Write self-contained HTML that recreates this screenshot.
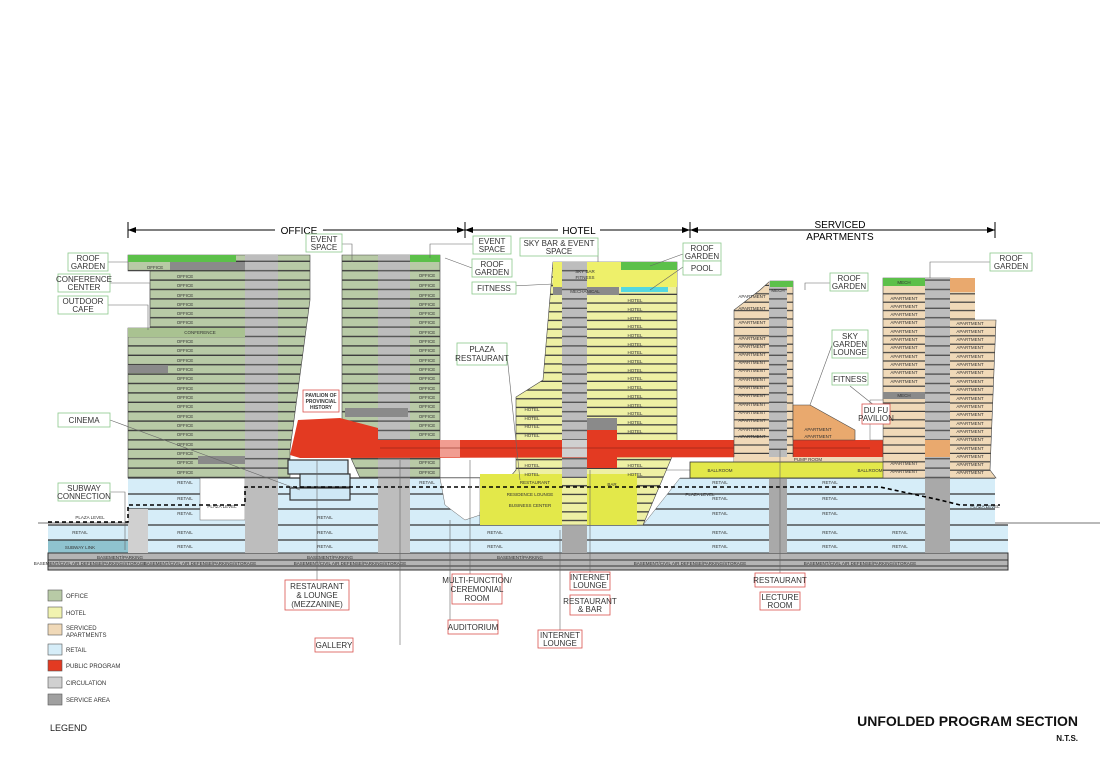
<!DOCTYPE html>
<html><head><meta charset="utf-8"><style>
html,body{margin:0;padding:0;background:#fff;}
svg{display:block;font-family:"Liberation Sans",sans-serif;}
.lb{font-size:8px;fill:#333;text-anchor:middle;}
.sm{font-size:4.5px;fill:#333;text-anchor:middle;}
</style></head><body>
<svg width="1100" height="777" viewBox="0 0 1100 777" xmlns="http://www.w3.org/2000/svg">
<defs>
<pattern id="po" width="10" height="9.4" patternUnits="userSpaceOnUse" y="262"><rect width="10" height="9.4" fill="#b8caa6"/><rect y="8" width="10" height="1.4" fill="#3d3d3d"/></pattern>
<pattern id="ph" width="10" height="8.7" patternUnits="userSpaceOnUse" y="295"><rect width="10" height="8.7" fill="#eef0a4"/><rect y="7.4" width="10" height="1.3" fill="#3d3d3d"/></pattern>
<pattern id="pa" width="10" height="8.4" patternUnits="userSpaceOnUse" y="286"><rect width="10" height="8.4" fill="#f0d9b8"/><rect y="7.2" width="10" height="1.2" fill="#3d3d3d"/></pattern>
<pattern id="pc" width="10" height="9.4" patternUnits="userSpaceOnUse" y="262"><rect width="10" height="9.4" fill="#bdbdbd"/><rect y="8" width="10" height="1.4" fill="#555"/></pattern>
</defs>

<line x1="128" y1="230" x2="995" y2="230" stroke="#000" stroke-width="1"/>
<g stroke="#000"><line x1="128" y1="222" x2="128" y2="238"/><line x1="465" y1="222" x2="465" y2="238"/><line x1="690" y1="222" x2="690" y2="238"/><line x1="995" y1="222" x2="995" y2="238"/></g>
<g fill="#000"><polygon points="128,230 136,227 136,233"/><polygon points="465,230 457,227 457,233"/><polygon points="465,230 473,227 473,233"/><polygon points="690,230 682,227 682,233"/><polygon points="690,230 698,227 698,233"/><polygon points="995,230 987,227 987,233"/></g>
<rect x="275" y="224" width="48" height="12" fill="#fff"/><text x="299" y="234" font-size="10" text-anchor="middle">OFFICE</text>
<rect x="558" y="224" width="42" height="12" fill="#fff"/><text x="579" y="234" font-size="10" text-anchor="middle">HOTEL</text>
<text x="840" y="228" font-size="10" text-anchor="middle">SERVICED</text>
<rect x="800" y="231" width="80" height="10" fill="#fff"/><text x="840" y="240" font-size="10" text-anchor="middle">APARTMENTS</text>

<line x1="38" y1="523" x2="1100" y2="523" stroke="#444" stroke-width="0.8"/>

<rect x="128" y="478" width="867" height="47" fill="#d6edf8"/>
<rect x="128" y="525" width="880" height="28" fill="#d6edf8"/>
<rect x="48" y="525" width="80" height="15" fill="#d6edf8"/>
<rect x="48" y="540" width="80" height="13" fill="#8fc3cf"/>
<g stroke="#333" stroke-width="1.3"><line x1="128" y1="478" x2="995" y2="478"/><line x1="128" y1="494" x2="995" y2="494"/><line x1="128" y1="509" x2="995" y2="509"/><line x1="48" y1="525" x2="1008" y2="525"/><line x1="48" y1="540" x2="1008" y2="540"/></g>
<rect x="48" y="553" width="960" height="17" fill="#b4b4b4" stroke="#333"/>
<line x1="48" y1="560" x2="1008" y2="560" stroke="#333"/><line x1="48" y1="566" x2="1008" y2="566" stroke="#333"/>
<text x="120" y="559" class="sm">BASEMENT/PARKING</text><text x="330" y="559" class="sm">BASEMENT/PARKING</text><text x="520" y="559" class="sm">BASEMENT/PARKING</text>
<text x="90" y="565" class="sm">BASEMENT/CIVIL AIR DEFENSE/PARKING/STORAGE</text><text x="200" y="565" class="sm">BASEMENT/CIVIL AIR DEFENSE/PARKING/STORAGE</text><text x="350" y="565" class="sm">BASEMENT/CIVIL AIR DEFENSE/PARKING/STORAGE</text><text x="690" y="565" class="sm">BASEMENT/CIVIL AIR DEFENSE/PARKING/STORAGE</text><text x="860" y="565" class="sm">BASEMENT/CIVIL AIR DEFENSE/PARKING/STORAGE</text>

<rect x="200" y="478" width="45" height="42" fill="#fff" stroke="#666" stroke-width="0.5"/>
<polygon points="440,478 480,478 480,515 465,520 445,505" fill="#fff" stroke="#666" stroke-width="0.5"/>
<polygon points="643,525 680,478 690,478 690,470 660,470 640,490 630,525" fill="#fff" stroke="#666" stroke-width="0.5"/>

<rect x="245" y="478" width="33" height="75" fill="#bdbdbd"/>
<rect x="378" y="478" width="32" height="75" fill="#bdbdbd"/>
<rect x="562" y="478" width="25" height="75" fill="#a9a9a9"/>
<rect x="769" y="470" width="18" height="83" fill="#a9a9a9"/>
<rect x="925" y="478" width="25" height="75" fill="#a9a9a9"/>
<rect x="128" y="509" width="20" height="44" fill="#d0d0d0"/>

<polygon points="128,255 310,255 310,300 290,450 290,478 128,478 128,328 150,328 150,271 128,271" fill="url(#po)" stroke="#444" stroke-width="0.6"/>
<rect x="245" y="255" width="33" height="223" fill="url(#pc)"/>
<rect x="128" y="255" width="108" height="7" fill="#5cc04a"/>
<rect x="170" y="262" width="75" height="8" fill="#8a8a8a"/>
<rect x="128" y="365" width="40" height="8" fill="#8a8a8a"/>
<rect x="198" y="456" width="47" height="8" fill="#8a8a8a"/>
<rect x="128" y="328" width="117" height="9" fill="#a9c291"/>
<polygon points="342,255 440,255 440,478 360,478 345,445 342,420" fill="url(#po)" stroke="#444" stroke-width="0.6"/>
<rect x="378" y="255" width="32" height="223" fill="url(#pc)"/>
<rect x="410" y="255" width="30" height="7" fill="#5cc04a"/>
<rect x="345" y="408" width="63" height="9" fill="#8a8a8a"/>
<g class="sm">
<text x="155" y="269">OFFICE</text><text x="185" y="278">OFFICE</text><text x="185" y="287">OFFICE</text><text x="185" y="297">OFFICE</text><text x="185" y="306">OFFICE</text><text x="185" y="315">OFFICE</text><text x="185" y="324">OFFICE</text><text x="200" y="334">CONFERENCE</text><text x="185" y="343">OFFICE</text><text x="185" y="352">OFFICE</text><text x="185" y="362">OFFICE</text><text x="185" y="371">OFFICE</text><text x="185" y="380">OFFICE</text><text x="185" y="390">OFFICE</text><text x="185" y="399">OFFICE</text><text x="185" y="408">OFFICE</text><text x="185" y="418">OFFICE</text><text x="185" y="427">OFFICE</text><text x="185" y="436">OFFICE</text><text x="185" y="446">OFFICE</text><text x="185" y="455">OFFICE</text><text x="185" y="464">OFFICE</text><text x="185" y="474">OFFICE</text>
<text x="427" y="277">OFFICE</text><text x="427" y="287">OFFICE</text><text x="427" y="297">OFFICE</text><text x="427" y="306">OFFICE</text><text x="427" y="315">OFFICE</text><text x="427" y="324">OFFICE</text><text x="427" y="334">OFFICE</text><text x="427" y="343">OFFICE</text><text x="427" y="352">OFFICE</text><text x="427" y="362">OFFICE</text><text x="427" y="371">OFFICE</text><text x="427" y="380">OFFICE</text><text x="427" y="390">OFFICE</text><text x="427" y="399">OFFICE</text><text x="427" y="408">OFFICE</text><text x="427" y="418">OFFICE</text><text x="427" y="427">OFFICE</text><text x="427" y="436">OFFICE</text><text x="427" y="464">OFFICE</text><text x="427" y="474">OFFICE</text>
<text x="185" y="484">RETAIL</text><text x="185" y="500">RETAIL</text><text x="185" y="515">RETAIL</text><text x="185" y="534">RETAIL</text><text x="185" y="548">RETAIL</text><text x="325" y="534">RETAIL</text><text x="325" y="548">RETAIL</text><text x="325" y="519">RETAIL</text><text x="427" y="484">RETAIL</text><text x="495" y="534">RETAIL</text><text x="495" y="548">RETAIL</text><text x="720" y="534">RETAIL</text><text x="720" y="548">RETAIL</text><text x="830" y="534">RETAIL</text><text x="830" y="548">RETAIL</text><text x="900" y="534">RETAIL</text><text x="900" y="548">RETAIL</text><text x="720" y="484">RETAIL</text><text x="830" y="484">RETAIL</text><text x="720" y="500">RETAIL</text><text x="830" y="500">RETAIL</text><text x="720" y="515">RETAIL</text><text x="830" y="515">RETAIL</text>
<text x="80" y="534">RETAIL</text><text x="80" y="549">SUBWAY LINK</text><text x="90" y="519">PLAZA LEVEL</text><text x="222" y="508">PLAZA LEVEL</text><text x="985" y="508">PLAZA LEVEL</text><text x="700" y="496">PLAZA LEVEL</text>
</g>

<g fill="#cfe8f5" stroke="#333" stroke-width="1.2"><rect x="288" y="460" width="60" height="14"/><rect x="300" y="474" width="50" height="13"/><rect x="290" y="488" width="60" height="12"/></g>

<polygon points="553,262 677,262 677,445 643,525 480,525 480,512 516,470 516,397 543,380" fill="url(#ph)" stroke="#444" stroke-width="0.6"/>
<rect x="553" y="262" width="124" height="25" fill="#eef06a"/>
<rect x="621" y="262" width="56" height="8" fill="#5cc04a"/>
<rect x="553" y="287" width="66" height="8" fill="#8a8a8a"/>
<rect x="621" y="287" width="47" height="5" fill="#54d8e0"/>
<rect x="562" y="262" width="25" height="216" fill="url(#pc)"/>
<rect x="480" y="474" width="82" height="51" fill="#e3e84a"/>
<rect x="587" y="474" width="50" height="51" fill="#e3e84a"/>
<rect x="587" y="418" width="30" height="18" fill="#8a8a8a"/>
<rect x="587" y="430" width="30" height="38" fill="#e33a22"/>
<g class="sm">
<text x="635" y="302">HOTEL</text><text x="635" y="311">HOTEL</text><text x="635" y="320">HOTEL</text><text x="635" y="328">HOTEL</text><text x="635" y="337">HOTEL</text><text x="635" y="346">HOTEL</text><text x="635" y="354">HOTEL</text><text x="635" y="363">HOTEL</text><text x="635" y="372">HOTEL</text><text x="635" y="380">HOTEL</text><text x="635" y="389">HOTEL</text><text x="635" y="398">HOTEL</text><text x="635" y="407">HOTEL</text><text x="635" y="415">HOTEL</text><text x="635" y="424">HOTEL</text><text x="635" y="433">HOTEL</text><text x="635" y="467">HOTEL</text><text x="635" y="476">HOTEL</text>
<text x="532" y="411">HOTEL</text><text x="532" y="420">HOTEL</text><text x="532" y="428">HOTEL</text><text x="532" y="437">HOTEL</text><text x="532" y="467">HOTEL</text><text x="532" y="476">HOTEL</text>
<text x="585" y="293">MECHANICAL</text><text x="585" y="273">SKY BAR</text><text x="585" y="279">FITNESS</text>
<text x="535" y="484">RESTAURANT</text><text x="530" y="496">RESIDENCE LOUNGE</text><text x="530" y="507">BUSINESS CENTER</text><text x="612" y="486">BAR</text>
</g>

<polygon points="290,455 298,420 340,418 378,428 378,440 870,440 870,457 300,458" fill="#e33a22"/>
<rect x="440" y="440" width="20" height="17" fill="#fff" opacity="0.5"/>
<rect x="562" y="440" width="25" height="17" fill="#d0d0d0"/>
<rect x="769" y="440" width="18" height="17" fill="#d0d0d0"/>
<rect x="870" y="440" width="32" height="17" fill="#e33a22"/>
<rect x="902" y="440" width="23" height="17" fill="#e9a96e"/>
<line x1="380" y1="448" x2="870" y2="448" stroke="#7a1a10" stroke-width="0.6"/>

<polygon points="770,281 793,281 793,470 734,470 734,310 760,290" fill="url(#pa)" stroke="#444" stroke-width="0.6"/>
<rect x="769" y="281" width="18" height="189" fill="url(#pc)"/>
<rect x="770" y="281" width="23" height="6" fill="#5cc04a"/>
<polygon points="793,405 810,405 855,430 855,440 793,440" fill="#e9a96e" stroke="#444" stroke-width="0.6"/>
<rect x="734" y="457" width="150" height="5" fill="#f0d9b8"/>
<rect x="690" y="462" width="195" height="16" fill="#e3e84a" stroke="#333" stroke-width="0.8"/>
<polygon points="883,278 950,278 950,320 996,320 990,470 996,478 883,478" fill="url(#pa)" stroke="#444" stroke-width="0.6"/>
<rect x="950" y="278" width="25" height="42" fill="url(#pa)"/>
<rect x="950" y="278" width="25" height="14" fill="#e9a96e"/>
<rect x="925" y="278" width="25" height="200" fill="url(#pc)"/>
<rect x="883" y="278" width="42" height="8" fill="#5cc04a"/>
<rect x="883" y="392" width="42" height="7" fill="#8a8a8a"/>
<rect x="870" y="400" width="13" height="40" fill="#fff" stroke="#666" stroke-width="0.5"/>
<rect x="925" y="440" width="25" height="17" fill="#e9a96e"/>
<g class="sm">
<text x="752" y="298">APARTMENT</text><text x="752" y="310">APARTMENT</text><text x="752" y="324">APARTMENT</text><text x="752" y="340">APARTMENT</text><text x="752" y="348">APARTMENT</text><text x="752" y="356">APARTMENT</text><text x="752" y="364">APARTMENT</text><text x="752" y="372">APARTMENT</text><text x="752" y="381">APARTMENT</text><text x="752" y="389">APARTMENT</text><text x="752" y="397">APARTMENT</text><text x="752" y="406">APARTMENT</text><text x="752" y="414">APARTMENT</text><text x="752" y="422">APARTMENT</text><text x="752" y="431">APARTMENT</text><text x="752" y="438">APARTMENT</text><text x="818" y="431">APARTMENT</text><text x="818" y="438">APARTMENT</text>
<text x="904" y="300">APARTMENT</text><text x="904" y="308">APARTMENT</text><text x="904" y="316">APARTMENT</text><text x="904" y="324">APARTMENT</text><text x="904" y="333">APARTMENT</text><text x="904" y="341">APARTMENT</text><text x="904" y="349">APARTMENT</text><text x="904" y="358">APARTMENT</text><text x="904" y="366">APARTMENT</text><text x="904" y="374">APARTMENT</text><text x="904" y="383">APARTMENT</text><text x="904" y="465">APARTMENT</text><text x="904" y="473">APARTMENT</text>
<text x="970" y="325">APARTMENT</text><text x="970" y="333">APARTMENT</text><text x="970" y="341">APARTMENT</text><text x="970" y="349">APARTMENT</text><text x="970" y="358">APARTMENT</text><text x="970" y="366">APARTMENT</text><text x="970" y="374">APARTMENT</text><text x="970" y="383">APARTMENT</text><text x="970" y="391">APARTMENT</text><text x="970" y="400">APARTMENT</text><text x="970" y="408">APARTMENT</text><text x="970" y="416">APARTMENT</text><text x="970" y="425">APARTMENT</text><text x="970" y="433">APARTMENT</text><text x="970" y="441">APARTMENT</text><text x="970" y="450">APARTMENT</text><text x="970" y="458">APARTMENT</text><text x="970" y="466">APARTMENT</text><text x="970" y="474">APARTMENT</text>
<text x="904" y="397">MECH</text><text x="904" y="284">MECH</text><text x="778" y="292">MECH</text><text x="720" y="472">BALLROOM</text><text x="870" y="472">BALLROOM</text><text x="808" y="461">PUMP ROOM</text>
</g>

<path d="M48,522 L128,522 L128,505 L245,505 L245,487 L880,487 L940,500 L960,505 L1000,505" fill="none" stroke="#000" stroke-width="1.6" stroke-dasharray="4,3"/>

<g stroke="#666" stroke-width="0.6" fill="none">
<line x1="108" y1="262" x2="128" y2="262"/><polyline points="110,283 150,283 150,325"/><polyline points="108,305 148,305 148,330"/><line x1="110" y1="420" x2="300" y2="490"/><polyline points="110,492 125,492 125,550"/>
<polyline points="342,244 352,244 352,262"/><polyline points="473,244 430,244 430,258"/><polyline points="472,268 445,258"/><line x1="472" y1="288" x2="553" y2="284"/><line x1="507" y1="355" x2="520" y2="480"/>
<line x1="598" y1="248" x2="598" y2="262"/><line x1="683" y1="254" x2="650" y2="266"/><line x1="683" y1="267" x2="650" y2="290"/>
<polyline points="830,283 805,283 805,290"/><polyline points="990,262 930,262 930,278"/><line x1="832" y1="345" x2="810" y2="405"/><line x1="850" y1="386" x2="880" y2="410"/>
<line x1="317" y1="580" x2="317" y2="460"/><line x1="400" y1="645" x2="400" y2="460"/><line x1="470" y1="574" x2="470" y2="460"/><line x1="450" y1="620" x2="450" y2="520"/><line x1="590" y1="573" x2="590" y2="470"/><line x1="560" y1="630" x2="560" y2="530"/><line x1="780" y1="573" x2="780" y2="450"/>
</g>

<g fill="#fff" stroke="#8cc98c" stroke-width="0.8">
<rect x="68" y="253" width="40" height="18"/><rect x="58" y="274" width="52" height="18"/><rect x="58" y="296" width="50" height="18"/><rect x="58" y="413" width="52" height="14"/><rect x="58" y="483" width="52" height="18"/>
<rect x="306" y="234" width="36" height="18"/><rect x="473" y="236" width="38" height="18"/><rect x="472" y="259" width="40" height="18"/><rect x="472" y="282" width="44" height="12"/><rect x="520" y="238" width="78" height="18"/>
<rect x="683" y="243" width="38" height="18"/><rect x="683" y="261" width="38" height="14"/><rect x="457" y="343" width="50" height="22"/><rect x="830" y="273" width="38" height="18"/><rect x="990" y="253" width="42" height="18"/><rect x="832" y="330" width="36" height="28"/><rect x="832" y="373" width="36" height="12"/>
</g>
<g class="lb">
<text x="88" y="261">ROOF</text><text x="88" y="269">GARDEN</text><text x="84" y="282">CONFERENCE</text><text x="84" y="290">CENTER</text><text x="83" y="304">OUTDOOR</text><text x="83" y="312">CAFE</text><text x="84" y="423">CINEMA</text><text x="84" y="491">SUBWAY</text><text x="84" y="499">CONNECTION</text>
<text x="324" y="242">EVENT</text><text x="324" y="250">SPACE</text><text x="492" y="244">EVENT</text><text x="492" y="252">SPACE</text><text x="492" y="267">ROOF</text><text x="492" y="275">GARDEN</text><text x="494" y="291">FITNESS</text><text x="559" y="246">SKY BAR &amp; EVENT</text><text x="559" y="254">SPACE</text>
<text x="702" y="251">ROOF</text><text x="702" y="259">GARDEN</text><text x="702" y="271">POOL</text><text x="482" y="352">PLAZA</text><text x="482" y="361">RESTAURANT</text><text x="849" y="281">ROOF</text><text x="849" y="289">GARDEN</text><text x="1011" y="261">ROOF</text><text x="1011" y="269">GARDEN</text><text x="850" y="339">SKY</text><text x="850" y="347">GARDEN</text><text x="850" y="355">LOUNGE</text><text x="850" y="382">FITNESS</text>
</g>

<g fill="#fff" stroke="#d9534f" stroke-width="0.8">
<rect x="303" y="390" width="36" height="22"/><rect x="285" y="580" width="64" height="30"/><rect x="315" y="638" width="38" height="14"/><rect x="452" y="574" width="50" height="30"/><rect x="448" y="620" width="50" height="14"/><rect x="570" y="572" width="40" height="18"/><rect x="570" y="595" width="40" height="20"/><rect x="538" y="630" width="44" height="18"/><rect x="755" y="573" width="50" height="14"/><rect x="760" y="592" width="40" height="18"/><rect x="862" y="404" width="28" height="20"/>
</g>
<g class="lb">
<text x="321" y="397" font-size="5" font-weight="bold">PAVILION OF</text><text x="321" y="403" font-size="5" font-weight="bold">PROVINCIAL</text><text x="321" y="409" font-size="5" font-weight="bold">HISTORY</text>
<text x="317" y="589">RESTAURANT</text><text x="317" y="598">&amp; LOUNGE</text><text x="317" y="607">(MEZZANINE)</text><text x="334" y="648">GALLERY</text>
<text x="477" y="583">MULTI-FUNCTION/</text><text x="477" y="592">CEREMONIAL</text><text x="477" y="601">ROOM</text><text x="473" y="630">AUDITORIUM</text>
<text x="590" y="580">INTERNET</text><text x="590" y="588">LOUNGE</text><text x="590" y="604">RESTAURANT</text><text x="590" y="612">&amp; BAR</text><text x="560" y="638">INTERNET</text><text x="560" y="646">LOUNGE</text>
<text x="780" y="583">RESTAURANT</text><text x="780" y="600">LECTURE</text><text x="780" y="608">ROOM</text><text x="876" y="413">DU FU</text><text x="876" y="421">PAVILION</text>
</g>

<g stroke="#555" stroke-width="0.6">
<rect x="48" y="590" width="14" height="11" fill="#b8caa6"/><rect x="48" y="607" width="14" height="11" fill="#f1f3b0"/><rect x="48" y="624" width="14" height="11" fill="#f0d9b8"/><rect x="48" y="644" width="14" height="11" fill="#d6edf8"/><rect x="48" y="660" width="14" height="11" fill="#e33a22"/><rect x="48" y="677" width="14" height="11" fill="#d0d0d0"/><rect x="48" y="694" width="14" height="11" fill="#a0a0a0"/>
</g>
<g font-size="6" fill="#333">
<text x="66" y="598">OFFICE</text><text x="66" y="615">HOTEL</text><text x="66" y="630">SERVICED</text><text x="66" y="637">APARTMENTS</text><text x="66" y="652">RETAIL</text><text x="66" y="668">PUBLIC PROGRAM</text><text x="66" y="685">CIRCULATION</text><text x="66" y="702">SERVICE AREA</text>
</g>
<text x="50" y="731" font-size="9" fill="#222">LEGEND</text>
<text x="1078" y="726" font-size="14" font-weight="bold" text-anchor="end" fill="#111">UNFOLDED PROGRAM SECTION</text>
<text x="1078" y="741" font-size="8" font-weight="bold" text-anchor="end" fill="#111">N.T.S.</text>
</svg>
</body></html>
